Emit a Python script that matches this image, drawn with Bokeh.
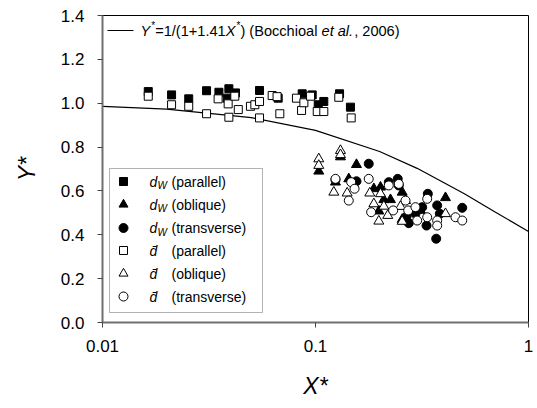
from bokeh.plotting import figure
from bokeh.models import Label, BoxAnnotation, FixedTicker, CustomJSTickFormatter
from bokeh.embed import file_html
from bokeh.resources import INLINE

# ---------------- data ----------------
x_ticks = [0.01, 0.1, 1]
y_ticks = [0.0, 0.2, 0.4, 0.6, 0.8, 1.0, 1.2, 1.4]

# model curve Y* = 1/(1+1.41 X*)
curve_x = [0.01, 0.02, 0.05, 0.1, 0.2, 0.3, 0.5, 0.7, 1.0]
curve_y = [0.986, 0.973, 0.934, 0.876, 0.780, 0.703, 0.587, 0.503, 0.415]

# d_w (parallel) - filled squares
dw_par_x = [0.0164, 0.0211, 0.0254, 0.0308, 0.0352, 0.0392, 0.0421, 0.0385, 0.0546,
            0.0668, 0.0866, 0.0965, 0.1030, 0.1094, 0.1297, 0.1459]
dw_par_y = [1.053, 1.038, 1.020, 1.057, 1.050, 1.066, 1.047, 1.023, 1.058,
            1.023, 1.043, 1.038, 0.993, 1.008, 1.043, 0.982]

# d_w (oblique) - filled triangles
dw_obl_x = [0.1036, 0.1310, 0.1557, 0.1241, 0.1433, 0.1879, 0.2019, 0.2093, 0.2249,
            0.2553, 0.2646, 0.1983, 0.4076, 0.3111, 0.2553]
dw_obl_y = [0.690, 0.755, 0.720, 0.640, 0.655, 0.610, 0.617, 0.560, 0.560,
            0.594, 0.556, 0.508, 0.569, 0.511, 0.470]

# d_w (transverse) - filled circles
dw_tra_x = [0.1778, 0.1241, 0.1557, 0.2208, 0.2432, 0.2460, 0.3368, 0.2675, 0.2742,
            0.3169, 0.3321, 0.3726, 0.3834, 0.4885, 0.3687, 0.2946]
dw_tra_y = [0.724, 0.651, 0.644, 0.640, 0.655, 0.625, 0.587, 0.483, 0.453,
            0.526, 0.442, 0.534, 0.496, 0.523, 0.382, 0.496]

# d-bar (parallel) - open squares
db_par_x = [0.0164, 0.0211, 0.0254, 0.0308, 0.0349, 0.0389, 0.0392, 0.0418, 0.0434,
            0.0495, 0.0519, 0.0546, 0.0546, 0.0626, 0.0660, 0.0680, 0.0814, 0.0860,
            0.0882, 0.0948, 0.1019, 0.1094, 0.1286, 0.1471]
db_par_y = [1.032, 0.993, 0.986, 0.952, 1.020, 0.997, 0.936, 1.032, 0.971,
            0.986, 0.993, 1.008, 0.933, 1.035, 1.030, 0.952, 1.023, 0.967,
            1.002, 1.032, 0.962, 0.962, 1.027, 0.933]

# d-bar (oblique) - open triangles
db_obl_x = [0.1036, 0.1036, 0.1310, 0.1310, 0.1219, 0.1408, 0.1798, 0.2019, 0.1879,
            0.1983, 0.2184, 0.2506, 0.2553, 0.4076, 0.2093]
db_obl_y = [0.746, 0.716, 0.784, 0.765, 0.594, 0.590, 0.590, 0.587, 0.541,
            0.462, 0.488, 0.529, 0.461, 0.496, 0.530]

# d-bar (transverse) - open circles
db_tra_x = [0.1241, 0.1471, 0.1525, 0.1433, 0.1778, 0.2208, 0.2460, 0.2646, 0.1825,
            0.2315, 0.2724, 0.2946, 0.3001, 0.3345, 0.3345, 0.3726, 0.3726, 0.4542, 0.4885]
db_tra_y = [0.655, 0.640, 0.610, 0.556, 0.655, 0.625, 0.632, 0.556, 0.503,
            0.511, 0.511, 0.526, 0.465, 0.564, 0.480, 0.465, 0.442, 0.480, 0.465]

# ---------------- layout ----------------
W, H = 537, 408
FL, FR, FT, FB = 102, 528, 15, 322
FONT = "Liberation Sans"


def dx(px):
    return 10 ** (-2 + 2.0 * (px - FL) / (FR - FL))


def dy(py):
    return 1.4 * (FB - py) / (FB - FT)


AW = {' ': 278, '(': 333, ')': 333, '*': 389, '+': 584, ',': 278, '.': 278, '/': 278,
      '=': 584, 'B': 667, 'W': 944, 'X': 667, 'Y': 667, 'a': 556, 'c': 500, 'd': 556,
      'e': 556, 'h': 556, 'i': 222, 'l': 222, 'o': 556, 't': 278}


def tw(s, size):
    return sum(AW.get(c, 556) for c in s) / 1000.0 * size


p = figure(width=W, height=H, x_axis_type="log", x_range=(0.01, 1), y_range=(0, 1.4),
           output_backend="svg", toolbar_location=None,
           min_border_left=FL, min_border_right=W - FR, min_border_top=FT,
           min_border_bottom=H - FB)
p.grid.visible = False
p.outline_line_color = "black"
p.outline_line_width = 1
p.background_fill_color = "white"
p.border_fill_color = "white"

for ax in (p.xaxis[0], p.yaxis[0]):
    ax.axis_line_color = "#6f6f6f"
    ax.axis_line_width = 2
    ax.major_tick_line_color = "#444444"
    ax.major_tick_in = 0
    ax.major_tick_out = 5
    ax.minor_tick_line_color = None
    ax.major_label_text_font = FONT
    ax.major_label_text_font_size = "17px"
    ax.major_label_text_color = "black"
    ax.axis_label_text_font = FONT
    ax.axis_label_text_font_style = "italic"
    ax.axis_label_text_font_size = "23px"
    ax.axis_label_text_color = "black"

p.xaxis.ticker = FixedTicker(ticks=x_ticks)
p.xaxis.formatter = CustomJSTickFormatter(code="return tick.toString();")
p.yaxis.ticker = FixedTicker(ticks=y_ticks)
p.yaxis.formatter = CustomJSTickFormatter(code="return tick.toFixed(1);")
p.xaxis.major_label_standoff = 12
p.yaxis.major_label_standoff = 13
p.xaxis.axis_label = "X*"
p.yaxis.axis_label = "Y*"
p.xaxis.axis_label_standoff = 18
p.yaxis.axis_label_standoff = 18

# curve
p.line(curve_x, curve_y, line_color="black", line_width=1.2)

S = 9
p.scatter(dw_par_x, dw_par_y, marker="square", size=S - 1, fill_color="black", line_color="black")
p.scatter(dw_obl_x, dw_obl_y, marker="triangle", size=S + 1, fill_color="black", line_color="black")
p.scatter(dw_tra_x, dw_tra_y, marker="circle", size=S, fill_color="black", line_color="black")
p.scatter(db_par_x, db_par_y, marker="square", size=S - 1, fill_color="white", line_color="black")
p.scatter(db_obl_x, db_obl_y, marker="triangle", size=S + 1, fill_color="white", line_color="black")
p.scatter(db_tra_x, db_tra_y, marker="circle", size=S, fill_color="white", line_color="black")


def lab(px, py, text, size, italic=False):
    p.add_layout(Label(x=dx(px), y=dy(py), text=text, text_font=FONT,
                       text_font_size=f"{size}px",
                       text_font_style="italic" if italic else "normal",
                       text_baseline="middle", text_align="left", text_color="black"))


# top legend (model line)
p.line([dx(107), dx(133)], [dy(30), dy(30)], line_color="black", line_width=1.2)
F = 14.6
runs = [("Y", True, F, 0), ("*", False, 10, -5), ("=1/(1+1.41", False, F, 0),
        ("X", True, F, 0), ("*", False, 10, -5), (") (Bocchioal ", False, F, 0),
        ("et al.", True, F, 0), (", 2006)", False, F, 0)]
cx = 140
for t, it, sz, off in runs:
    lab(cx, 30 + off, t, sz, it)
    cx += tw(t, sz) + (1 if it else 0)

# lower legend box
p.add_layout(BoxAnnotation(left=dx(109), right=dx(262), top=dy(168), bottom=dy(312),
                           fill_color="white", fill_alpha=1.0, line_color="black",
                           line_width=1, level="underlay"))
legend_names = ["(parallel)", "(oblique)", "(transverse)"]
rows = [181, 204, 227.5, 250, 273, 296]
markers = ["square", "triangle", "circle"]
LF = 14
for i in range(6):
    py = rows[i]
    filled = i < 3
    m = markers[i % 3]
    p.scatter([dx(123)], [dy(py)], marker=m, size=8 if m == "square" else 9,
              fill_color="black" if filled else "white", line_color="black")
    if filled:
        lab(149, py, "d", LF, True)
        lab(157, py + 4, "W", 10, True)
        lab(171, py, legend_names[i % 3], LF)
    else:
        lab(149, py, "d\u0304", LF, True)
        lab(171, py, legend_names[i % 3], LF)

open("out.html", "w").write(file_html(p, INLINE))
